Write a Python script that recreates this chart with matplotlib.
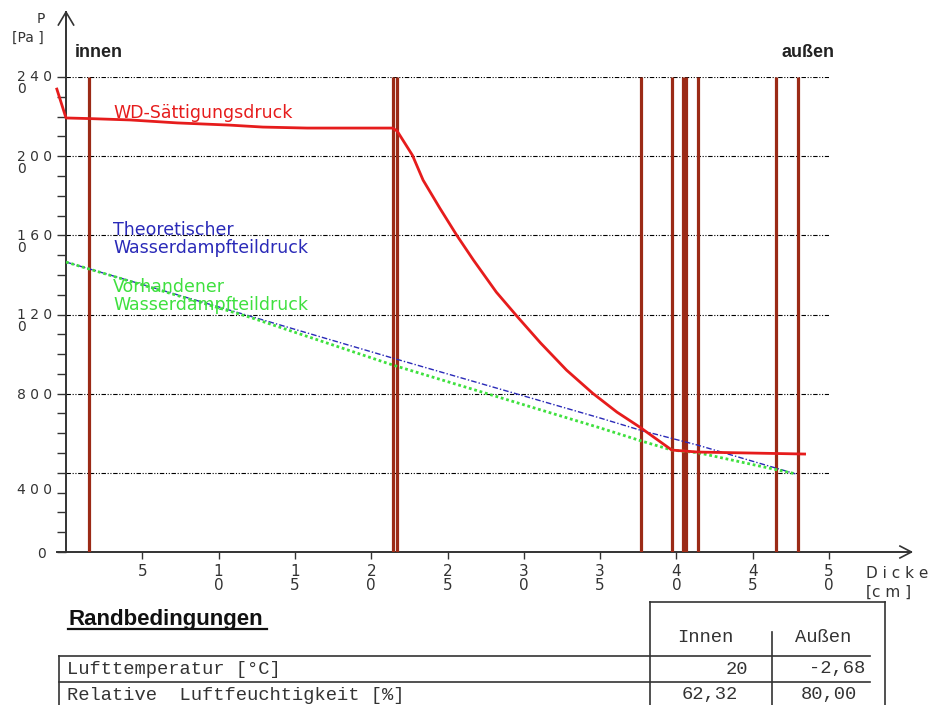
import matplotlib.pyplot as plt

W, H = 931, 705

# Schichtgrenzen [cm]
layer_x = [1.5, 21.4, 21.7, 37.7, 39.7, 40.45, 40.65, 41.4, 46.5, 48.0]

# WD-Saettigungsdruck [Pa] ueber Dicke [cm]
sat_x = [-0.6, 0.0, 1.5, 4.2, 7.3, 10.7, 12.9, 15.8, 21.4, 21.7, 22.7, 23.4, 24.5,
         25.6, 26.7, 28.2, 29.6, 31.1, 32.8, 34.5, 36.1, 37.6, 39.7, 41.4, 48.4]
sat_p = [2339, 2193, 2190, 2183, 2168, 2157, 2147, 2142, 2142, 2127, 2005, 1879, 1737,
         1601, 1475, 1313, 1187, 1056, 919, 803, 707, 631, 515, 505, 495]

# theoretischer Wasserdampfteildruck
theo_x = [0, 21.4, 35.0, 37.7, 41.4, 47.8]
theo_p = [1465, 980, 677, 614, 540, 395]

# vorhandener Wasserdampfteildruck
vorh_x = [0, 12.1, 21.4, 35.0, 37.7, 39.7, 41.4, 47.8]
vorh_p = [1465, 1185, 945, 627, 561, 515, 502, 395]

grid_p = [400, 800, 1200, 1600, 2000, 2400]
ylabel_txt = ['2 4 0\n0', '2 0 0\n0', '1 6 0\n0', '1 2 0\n0', '8 0 0', '4 0 0', '0']
ylabel_pos = [2400, 2000, 1600, 1200, 800, 323, 0]
xtick_pos = [5, 10, 15, 20, 25, 30, 35, 40, 45, 50]
xtick_txt = ['5', '1\n0', '1\n5', '2\n0', '2\n5', '3\n0', '3\n5', '4\n0', '4\n5', '5\n0']

row_names = ['Lufttemperatur [°C]', 'Relative  Luftfeuchtigkeit [%]']
innen_vals = ['20', '62,32']
aussen_vals = ['-2,68', '80,00']

brown = '#9b2a16'
red = '#e61c1c'
blue = '#2a2ab8'
green = '#3fe03f'
axc = '#333333'

fig = plt.figure(figsize=(W / 100, H / 100), dpi=100)
ax = fig.add_axes([66 / W, 1 - 552 / H, 763 / W, 475 / H])
ax.set_xlim(0, 50)
ax.set_ylim(0, 2400)
for s in ax.spines.values():
    s.set_visible(False)

# gitter + schichten
ax.hlines(grid_p, 0, 50, colors='black', lw=0.8, linestyles=[(0, (4, 1.5, 1, 1.5, 1, 1.5))], zorder=1)
ax.vlines(layer_x, 0, 2400, colors=brown, lw=2.3, zorder=3)

# kurven
ax.plot(theo_x, theo_p, color=blue, lw=1.0, ls=(0, (4, 1.5, 1, 1.5)), zorder=4)
ax.plot(vorh_x, vorh_p, color=green, lw=2.0, ls=(0, (1, 1)), zorder=4)
ax.plot(sat_x, sat_p, color=red, lw=2.0, zorder=5, clip_on=False)

# achsen mit pfeilen
ax.plot([-0.6, 55.4], [0, 0], color=axc, lw=1.4, clip_on=False)
ax.plot([0, 0], [0, 2728], color=axc, lw=1.4, clip_on=False)
ax.plot([-0.5, 0, 0.5], [2663, 2728, 2663], color=axc, lw=1.2, clip_on=False)
ax.plot([54.65, 55.4, 54.65], [30, 0, -30], color=axc, lw=1.2, clip_on=False)

ax.set_yticks(range(0, 2401, 100))
ax.tick_params(axis='y', direction='out', length=6.5, width=1, color=axc, labelleft=False)
ax.set_xticks(xtick_pos)
ax.set_xticklabels(xtick_txt, fontsize=11, color='#333333')
ax.tick_params(axis='x', direction='out', length=5, width=1, color=axc, pad=4)
for lab in ax.get_xticklabels():
    lab.set_linespacing(0.88)

ytr = ax.get_yaxis_transform()
for txt, pos in zip(ylabel_txt, ylabel_pos):
    xl = (37 - 66) / 763 if txt == '0' else (17 - 66) / 763
    shift = 30 if '\n' in txt else 0
    ax.text(xl, pos - shift, txt, transform=ytr, ha='left', va='center_baseline', fontsize=10,
            color='#333333', linespacing=0.82, clip_on=False)

# overlay in pixel coordinates for labels and table
ov = fig.add_axes([0, 0, 1, 1])
ov.set_xlim(0, W)
ov.set_ylim(H, 0)
ov.axis('off')
ov.patch.set_alpha(0)

ov.text(45, 19, 'P', ha='right', va='center', fontsize=10, color='#333333')
ov.text(12, 38, '[Pa ]', ha='left', va='center', fontsize=10, color='#333333')
ov.text(866, 573, 'D i c k e', ha='left', va='center', fontsize=11, color='#333333')
ov.text(866, 592, '[c m ]', ha='left', va='center', fontsize=11, color='#333333')

ov.text(75, 57, 'innen', ha='left', va='baseline', fontsize=13, fontweight='bold',
        family='Liberation Sans', color='#222222')
ov.text(782, 57, 'außen', ha='left', va='baseline', fontsize=13, fontweight='bold',
        family='Liberation Sans', color='#222222')

ov.text(113, 118, 'WD-Sättigungsdruck', ha='left', va='baseline', fontsize=12.5, color=red)
ov.text(113, 235, 'Theoretischer', ha='left', va='baseline', fontsize=12.5, color=blue)
ov.text(113, 253, 'Wasserdampfteildruck', ha='left', va='baseline', fontsize=12.5, color=blue)
ov.text(113, 292, 'Vorhandener', ha='left', va='baseline', fontsize=12.5, color=green)
ov.text(113, 310, 'Wasserdampfteildruck', ha='left', va='baseline', fontsize=12.5, color=green)

# Randbedingungen
ov.text(68, 625, 'Randbedingungen', ha='left', va='baseline', fontsize=16, fontweight='bold',
        family='Liberation Sans', color='#111111')
ov.plot([68, 267], [629, 629], color='#111111', lw=1.6)

tc = '#333333'
ov.plot([650, 885], [602, 602], color=tc, lw=1.2)
ov.plot([650, 650], [602, 705], color=tc, lw=1.2)
ov.plot([885, 885], [602, 705], color=tc, lw=1.2)
ov.plot([772, 772], [632, 705], color=tc, lw=1.2)
ov.plot([59, 870], [656, 656], color=tc, lw=1.2)
ov.plot([59, 870], [682, 682], color=tc, lw=1.2)
ov.plot([59, 59], [656, 705], color=tc, lw=1.2)

mono = dict(family='Liberation Mono', fontsize=13.5, color='#333333', va='center')
ov.text(705, 637, 'Innen', ha='center', **mono)
ov.text(823, 637, 'Außen', ha='center', **mono)
row_y = [669, 695]
innen_right = [748, 738]
aussen_right = [865, 857]
for i, name in enumerate(row_names):
    ov.text(67, row_y[i], name, ha='left', **mono)
    ov.text(innen_right[i], row_y[i], innen_vals[i], ha='right', **mono)
    ov.text(aussen_right[i], row_y[i], aussen_vals[i], ha='right', **mono)

fig.savefig('out.png', dpi=100, facecolor='white')
